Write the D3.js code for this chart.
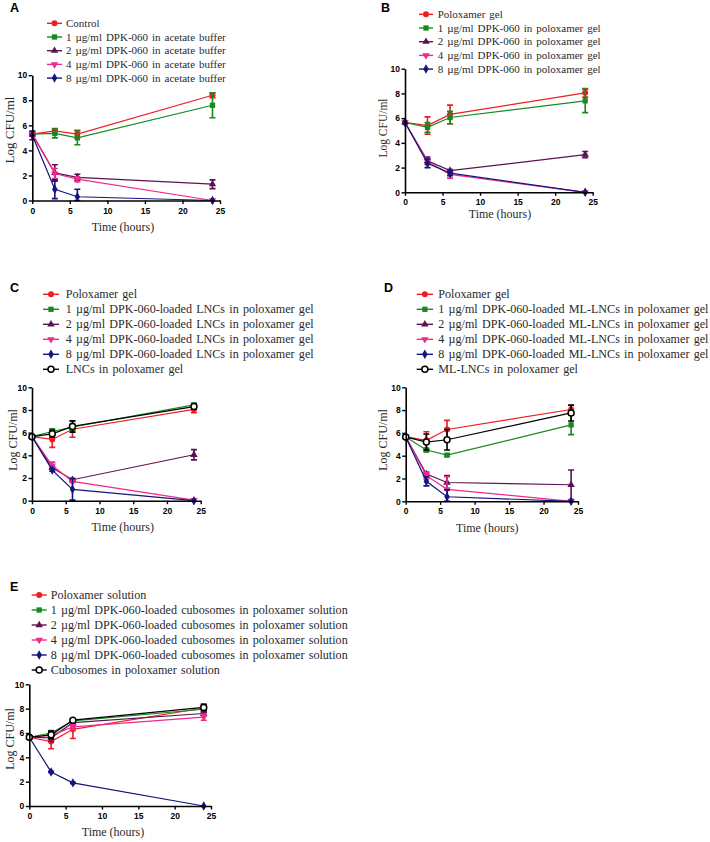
<!DOCTYPE html>
<html>
<head>
<meta charset="utf-8">
<script src="https://cdn.jsdelivr.net/npm/d3@7"></script>
<style>
body { margin: 0; background: #fff; }
.tick text { font-family: "Liberation Sans", Arial, sans-serif; font-weight: bold; font-size: 8.5px; fill: #000; }
.serif { font-family: "Liberation Serif", "Times New Roman", serif; font-weight: normal; fill: #2a2a2a; }
</style>
</head>
<body>
<svg id="fig" width="710" height="842"></svg>
<script>
// sampling times (hours) and axis ticks shared by all panels
const times = [0, 3, 6, 24];
const xTicks = [0, 5, 10, 15, 20, 25];
const yTicks = [0, 2, 4, 6, 8, 10];

// panel A
const labelsA = ["Control", "1 µg/ml DPK-060 in acetate buffer", "2 µg/ml DPK-060 in acetate buffer",
    "4 µg/ml DPK-060 in acetate buffer", "8 µg/ml DPK-060 in acetate buffer"];
const meansA = [[5.3, 5.55, 5.3, 8.4], [5.3, 5.35, 5.0, 7.6], [5.3, 2.2, 1.85, 1.3], [5.3, 2.15, 1.7, 0.0], [5.2, 0.9, 0.3, 0.0]];
const errorsA = [[0.15, 0.2, 0.3, 0.2], [0.15, 0.35, 0.55, 1.0], [0.15, 0.65, 0.25, 0.35], [0.15, 0.4, 0.2, 0], [0.35, 0.75, 0.6, 0]];

// panel B
const labelsB = ["Poloxamer gel", "1 µg/ml DPK-060 in poloxamer gel", "2 µg/ml DPK-060 in poloxamer gel",
    "4 µg/ml DPK-060 in poloxamer gel", "8 µg/ml DPK-060 in poloxamer gel"];
const meansB = [[5.65, 5.4, 6.3, 8.05], [5.65, 5.25, 6.05, 7.4], [5.65, 2.55, 1.75, 3.05], [5.65, 2.5, 1.45, 0.0], [5.65, 2.35, 1.55, 0.0]];
const errorsB = [[0, 0.7, 0.75, 0.35], [0, 0.4, 0.5, 0.95], [0, 0.3, 0.1, 0.25], [0, 0.2, 0.3, 0], [0, 0.35, 0.2, 0]];

// panel C
const labelsC = ["Poloxamer gel", "1 µg/ml DPK-060-loaded LNCs in poloxamer gel", "2 µg/ml DPK-060-loaded LNCs in poloxamer gel",
    "4 µg/ml DPK-060-loaded LNCs in poloxamer gel", "8 µg/ml DPK-060-loaded LNCs in poloxamer gel", "LNCs in poloxamer gel"];
const meansC = [[5.65, 5.4, 6.3, 8.05], [5.65, 6.1, 6.5, 8.45], [5.65, 2.9, 1.85, 4.05], [5.65, 3.1, 1.7, 0.05], [5.65, 2.7, 1.0, 0.0], [5.65, 5.9, 6.55, 8.3]];
const errorsC = [[0.1, 0.7, 0.7, 0.3], [0.1, 0.25, 0.3, 0.15], [0.1, 0.1, 0.1, 0.45], [0.1, 0.3, 0.1, 0], [0.1, 0.1, 0.95, 0], [0.1, 0.3, 0.5, 0.2]];

// panel D
const labelsD = ["Poloxamer gel", "1 µg/ml DPK-060-loaded ML-LNCs in poloxamer gel", "2 µg/ml DPK-060-loaded ML-LNCs in poloxamer gel",
    "4 µg/ml DPK-060-loaded ML-LNCs in poloxamer gel", "8 µg/ml DPK-060-loaded ML-LNCs in poloxamer gel", "ML-LNCs in poloxamer gel"];
const meansD = [[5.65, 5.35, 6.3, 8.05], [5.65, 4.5, 4.05, 6.7], [5.65, 2.4, 1.65, 1.45], [5.65, 2.25, 1.05, 0.0], [5.65, 1.75, 0.4, 0.0], [5.65, 5.2, 5.4, 7.75]];
const errorsD = [[0.1, 0.75, 0.8, 0.35], [0.1, 0.15, 0.1, 0.85], [0.1, 0.15, 0.6, 1.3], [0.1, 0.3, 1.1, 0], [0.1, 0.4, 0.6, 0], [0.1, 0.7, 0.9, 0.7]];

// panel E
const labelsE = ["Poloxamer solution", "1 µg/ml DPK-060-loaded cubosomes in poloxamer solution", "2 µg/ml DPK-060-loaded cubosomes in poloxamer solution",
    "4 µg/ml DPK-060-loaded cubosomes in poloxamer solution", "8 µg/ml DPK-060-loaded cubosomes in poloxamer solution", "Cubosomes in poloxamer solution"];
const meansE = [[5.65, 5.3, 6.3, 8.05], [5.65, 6.0, 7.0, 7.95], [5.65, 5.6, 6.85, 7.6], [5.65, 5.8, 6.5, 7.3], [5.65, 2.8, 1.9, 0.0], [5.65, 5.85, 7.05, 8.1]];
const errorsE = [[0.1, 0.6, 0.75, 0.3], [0.1, 0.2, 0.1, 0.2], [0.1, 0.3, 0.1, 0.1], [0.1, 0.2, 0.2, 0.25], [0.05, 0.05, 0.05, 0], [0.1, 0.3, 0.1, 0.25]];

// series look, same order as the legends
const colors = ["#ee1d23", "#178a1f", "#5a1350", "#ee2a8c", "#15157d", "#000000"];
const shapes = ["circle", "square", "triUp", "triDown", "diamond", "open"];

const svg = d3.select("#fig");

function drawMarker(sel, shape, color, cx, cy) {
    if (shape === "circle") {
        sel.append("circle").attr("cx", cx).attr("cy", cy).attr("r", 3).attr("fill", color);
    } else if (shape === "open") {
        sel.append("circle").attr("cx", cx).attr("cy", cy).attr("r", 3)
            .attr("fill", "#fff").attr("stroke", color).attr("stroke-width", 1.5);
    } else {
        let type = d3.symbolSquare, size = 28, rot = 0;
        if (shape === "triUp") { type = d3.symbolTriangle; size = 24; }
        if (shape === "triDown") { type = d3.symbolTriangle; size = 24; rot = 180; }
        if (shape === "diamond") { type = d3.symbolDiamond; size = 26; }
        sel.append("path").attr("d", d3.symbol().type(type).size(size)())
            .attr("transform", `translate(${cx},${cy}) rotate(${rot})`)
            .attr("fill", color);
    }
}

function drawPanel(cfg, labels, means, errors) {
    const g = svg.append("g");
    const x = d3.scaleLinear().domain([0, 25]).range([cfg.x0, cfg.x1]);
    const y = d3.scaleLinear().domain([0, 10]).range([cfg.yBot, cfg.yTop]);

    // panel letter
    g.append("text").attr("x", cfg.letterX).attr("y", cfg.letterY)
        .attr("font-family", "Liberation Sans, Arial, sans-serif").attr("font-weight", "bold")
        .attr("font-size", 12.5).text(cfg.letter);

    // series
    means.forEach((m, i) => {
        const pts = times.map((t, j) => ({ t: t, v: m[j], e: errors[i][j] }));
        const s = g.append("g");
        s.append("path").datum(pts)
            .attr("d", d3.line().x(d => x(d.t)).y(d => y(d.v)))
            .attr("fill", "none").attr("stroke", colors[i]).attr("stroke-width", 1.2);
        pts.filter(d => d.e > 0).forEach(d => {
            const lo = y(Math.max(0, d.v - d.e)), hi = y(d.v + d.e), cx = x(d.t);
            s.append("path")
                .attr("d", `M${cx},${lo}V${hi}M${cx - 3},${hi}H${cx + 3}M${cx - 3},${lo}H${cx + 3}`)
                .attr("fill", "none").attr("stroke", colors[i]).attr("stroke-width", 1.6);
        });
        pts.forEach(d => drawMarker(s, shapes[i], colors[i], x(d.t), y(d.v)));
    });

    // axes
    const xa = g.append("g").attr("transform", `translate(0,${cfg.yBot})`)
        .call(d3.axisBottom(x).tickValues(xTicks).tickSize(3.5).tickPadding(3.5).tickSizeOuter(0));
    const ya = g.append("g").attr("transform", `translate(${cfg.x0},0)`)
        .call(d3.axisLeft(y).tickValues(yTicks).tickSize(3.5).tickPadding(1.5).tickSizeOuter(0));
    [xa, ya].forEach(a => {
        a.select(".domain").attr("stroke", "#000").attr("stroke-width", 1.6);
        a.selectAll(".tick line").attr("stroke", "#000").attr("stroke-width", 1.4);
    });

    // axis titles
    g.append("text").attr("class", "serif").attr("x", cfg.xlabX).attr("y", cfg.xlabY)
        .attr("text-anchor", "middle").attr("font-size", 12).text("Time (hours)");
    g.append("text").attr("class", "serif")
        .attr("transform", `translate(${cfg.ylabX},${cfg.ylabY}) rotate(-90)`)
        .attr("text-anchor", "middle").attr("dy", "0.35em").attr("font-size", cfg.ylabFont).text("Log CFU/ml");

    // legend
    labels.forEach((lab, i) => {
        const ly = cfg.legY + i * cfg.legStep;
        g.append("line").attr("x1", cfg.legX0).attr("x2", cfg.legX1).attr("y1", ly).attr("y2", ly)
            .attr("stroke", colors[i]).attr("stroke-width", 1.4);
        drawMarker(g, shapes[i], colors[i], (cfg.legX0 + cfg.legX1) / 2, ly);
        g.append("text").attr("class", "serif").attr("x", cfg.legText).attr("y", ly + cfg.legFont * 0.33)
            .attr("font-size", cfg.legFont).attr("word-spacing", 1.2).text(lab);
    });
}

drawPanel({ letter: "A", letterX: 10, letterY: 12, x0: 32.3, x1: 220, yTop: 75.2, yBot: 200.5,
    legX0: 47, legX1: 62, legText: 66, legY: 23.3, legStep: 13.7, legFont: 11,
    xlabX: 123, xlabY: 231, ylabX: 9, ylabY: 130, ylabFont: 13 }, labelsA, meansA, errorsA);

drawPanel({ letter: "B", letterX: 381, letterY: 12, x0: 405, x1: 592.7, yTop: 68.7, yBot: 192.3,
    legX0: 419, legX1: 433, legText: 437.7, legY: 14.3, legStep: 13.7, legFont: 11,
    xlabX: 500, xlabY: 218, ylabX: 382.5, ylabY: 128, ylabFont: 11.5 }, labelsB, meansB, errorsB);

drawPanel({ letter: "C", letterX: 10, letterY: 292, x0: 32, x1: 200.7, yTop: 387.3, yBot: 500.7,
    legX0: 43, legX1: 59, legText: 65.7, legY: 294.3, legStep: 15, legFont: 12.1,
    xlabX: 122.7, xlabY: 531, ylabX: 13, ylabY: 440, ylabFont: 12 }, labelsC, meansC, errorsC);

drawPanel({ letter: "D", letterX: 384, letterY: 292, x0: 405.7, x1: 578, yTop: 387.3, yBot: 501.3,
    legX0: 416.7, legX1: 433, legText: 438.3, legY: 294.3, legStep: 15, legFont: 12.1,
    xlabX: 487.3, xlabY: 532, ylabX: 382.5, ylabY: 440, ylabFont: 12 }, labelsD, meansD, errorsD);

drawPanel({ letter: "E", letterX: 10, letterY: 591, x0: 29.3, x1: 211, yTop: 684.3, yBot: 806,
    legX0: 31.7, legX1: 46.7, legText: 50.7, legY: 595, legStep: 15, legFont: 12.1,
    xlabX: 113, xlabY: 836, ylabX: 10, ylabY: 739, ylabFont: 12 }, labelsE, meansE, errorsE);
</script>
</body>
</html>
